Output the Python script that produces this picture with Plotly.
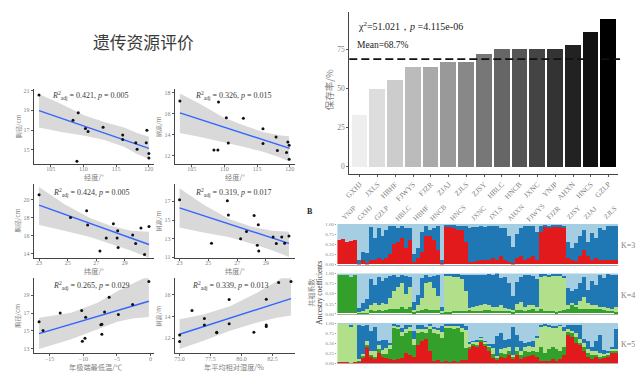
import plotly.graph_objects as go

W, H = 642, 384
SERIF = "Liberation Serif"
CJK = "Noto Sans CJK SC"
GREY = "#7f7f7f"

# ---------- environmental scatter panels ----------
lon_d = [103.2,108.4,109.2,110.3,110.7,113.0,116.0,116.0,118.0,118.2,119.6,119.7,120.0,120.0,109.0]
lon_h = [103.2,108.4,109.0,109.1,110.3,110.6,112.9,115.9,115.9,117.9,118.1,119.5,119.7,119.9,119.9]
dbh_lon = [20.54,18.0,18.75,17.16,16.86,17.3,16.5,16.06,15.73,15.07,15.73,17.0,14.64,14.2,13.87]
hgt_lon = [17.2,12.53,12.53,17.1,15.6,13.2,15.56,14.56,13.16,13.78,12.5,12.3,13.3,13.0,11.66]
lat_d = [23.0,25.2,26.33,26.4,27.26,27.7,28.2,28.46,28.5,28.53,29.55,29.76,30.13,30.38,30.69]
dbh_lat = [20.52,18.0,18.76,17.15,14.26,15.72,17.3,15.72,16.53,14.66,16.05,15.1,16.82,13.89,17.0]
lat_h = [23.0,25.22,26.32,26.39,27.24,27.65,28.18,28.4,28.47,28.5,29.5,29.72,30.1,30.3,30.6]
hgt_lat = [17.18,12.5,17.07,15.53,13.0,13.77,15.49,12.3,14.5,11.67,13.18,12.47,13.18,12.5,13.28]
tmin = [-16.57,-15.98,-13.43,-10.23,-10.13,-9.74,-9.64,-7.38,-7.23,-7.23,-6.83,-6.15,-4.77,-2.65,-0.24]
dbh_tmin = [16.04,15.04,17.0,17.3,13.85,14.19,16.52,15.7,15.74,14.63,17.11,18.78,16.85,17.96,20.56]
rh = [75,75,76,77,77,78,78,79,79,81,82,82,82,83,84]
hgt_rh = [12.3,11.7,14.55,13.8,13.2,12.5,12.55,15.55,13.33,12.55,15.58,13.2,13.06,17.12,17.2]

fit_x = [[103.2,120],[103.2,120],[23,30.69],[23,30.6],[-16.57,-0.24],[75,84]]
fit_y = [[18.98,15.17],[16.06,12.69],[19.38,14.99],[16.3,12.5],[14.7,18.33],[12.36,15.64]]
band_x = [[103.2,106.6,110.2,113.2,116.2,118.2,120],
          [103.2,106.3,109.8,112.9,115.9,118.4,119.9],
          [23,24.78,26.63,28.02,29.41,30.69],
          [23,24.65,26.48,28.08,29.46,30.6],
          [-16.57,-11.8,-7.87,-4.92,-2.46,-0.24],
          [75,76.93,79.07,81.21,82.82,84]]
band_up = [[20.64,19.64,18.48,17.82,17.26,16.72,16.33],
           [17.9,16.9,15.66,14.88,14.25,13.94,13.84],
           [21.4,19.46,17.88,17.08,16.53,16.42],
           [18.4,16.65,15.07,14.26,13.84,13.74],
           [16.48,17.04,18.15,19.44,20.37,21.2],
           [13.73,14.18,14.94,16.15,17.21,18.12]]
band_lo = [[17.26,16.82,16.43,16.0,15.33,14.6,14.1],
           [14.16,13.78,13.31,12.84,12.38,11.84,11.44],
           [17.15,16.53,15.79,15.06,14.33,13.49],
           [14.19,13.67,13.14,12.44,11.74,11.04],
           [12.96,14.07,15.19,16.04,16.41,16.56],
           [11.0,11.76,12.67,13.42,13.88,14.09]]
scatter_x = [lon_d, lon_h, lat_d, lat_h, tmin, rh]
scatter_y = [dbh_lon, hgt_lon, dbh_lat, hgt_lat, dbh_tmin, hgt_rh]
x_ticks = [[105,110,115,120],[105,110,115,120],[23,25,27,29],[23,25,27,29],[-15,-10,-5,0],[75,77.5,80,82.5]]
x_tick_text = [["105","110","115","120"],["105","110","115","120"],["23","25","27","29"],["23","25","27","29"],
               ["−15","−10","−5","0"],["75.0","77.5","80.0","82.5"]]
y_ticks = [[15,17,19,21],[12,14,16,18],[14,16,18,20],[11,13,15,17],[13,15,17,19],[12,14,16]]
x_titles = ["经度/°","经度/°","纬度/°","纬度/°","年极端最低温/℃","年平均相对湿度/%"]
y_titles = ["胸径/cm","树高/m","胸径/cm","树高/m","胸径/cm","树高/m"]
r2_text = ["0.421","0.326","0.424","0.319","0.265","0.339"]
p_text = ["0.005","0.015","0.005","0.017","0.029","0.013"]

# ---------- survival bar chart ----------
bar_names = ["GXHJ","JXLS","HBHF","FJWYS","FJZR","ZJAJ","ZJLS","ZJSY","HBLC","HNCB","JXNC","YNJP","AHXN","HNCS","GZLP"]
bar_values = [33.3,50.0,55.6,63.9,63.9,66.7,66.7,72.2,75.0,75.0,75.0,75.0,77.8,86.1,94.4]
bar_colors = ["#eeeeee","#dddddd","#cccccc","#bbbbbb","#aaaaaa","#999999","#888888","#777777",
              "#666666","#555555","#444444","#333333","#222222","#111111","#000000"]
mean_value = 68.7

# ---------- ancestry panels (column = about 4 px of the original stacked plot) ----------
k3_red = [.60,.62,.55,.58,.60,.02,.10,.03,.12,.10,.15,.10,.15,.25,.50,.55,.65,.40,.60,.05,.15,.30,.70,.70,.60,.35,.03,
          .95,.93,.90,.85,.85,.55,.05,.05,.08,.10,.12,.12,.15,.10,.20,.10,.05,.03,.15,.20,.10,.15,.20,.10,.80,.95,.90,
          .95,.95,.95,.90,.15,.10,.08,.20,.35,.20,.12,.15,.10,.10,.12,.10,.10]
k3_blue = [0,0,0,0,0,.10,.20,.25,.80,.55,.75,.60,.70,.70,.45,.35,.30,.50,.30,.20,.25,.50,.25,.15,.30,.60,.07,
           .03,.05,.08,.10,.12,.42,.85,.88,.85,.85,.80,.85,.80,.85,.70,.80,.65,.40,.60,.70,.85,.80,.75,.70,.15,.03,.07,
           .03,.03,.03,.05,.40,.30,.45,.50,.50,.35,.65,.50,.80,.75,.83,.85,.85]
k4_dgreen = [.97,.97,.95,.90,.97,.02,.03,.02,.08,.05,.08,.05,.08,.12,.10,.10,.15,.12,.15,.03,.05,.08,.10,.08,.08,.08,.02,
             .03,.03,.05,.05,.05,.05,.08,.05,.06,.05,.08,.08,.05,.05,.07,.05,.05,.03,.08,.08,.05,.08,.10,.05,.10,.05,.07,
             .05,.03,.05,.08,.12,.20,.15,.10,.10,.12,.10,.10,.10,.08,.05,.05,.03]
k4_lgreen = [0,0,0,0,0,.02,.03,.08,.12,.20,.12,.20,.15,.25,.45,.55,.60,.35,.50,.05,.15,.30,.65,.70,.55,.35,.05,
             .90,.92,.85,.85,.80,.50,.05,.10,.12,.15,.15,.12,.12,.10,.15,.08,.05,.05,.15,.20,.10,.12,.12,.10,.80,.90,.83,
             .90,.92,.90,.80,.10,.05,.05,.20,.30,.15,.10,.10,.05,.08,.08,.05,.12]
k4_blue = [0,0,0,0,0,.10,.20,.25,.65,.45,.70,.55,.65,.55,.40,.25,.20,.45,.25,.20,.25,.50,.20,.12,.30,.52,.10,
           .05,.03,.08,.08,.12,.42,.82,.82,.78,.75,.72,.78,.80,.85,.65,.78,.65,.35,.55,.62,.82,.75,.70,.70,.08,.03,.07,
           .03,.03,.03,.05,.40,.30,.40,.45,.50,.30,.60,.50,.80,.72,.85,.87,.80]
k5_red = [.02,.02,.03,0,.04,.05,.15,.40,.15,.10,.25,.15,.12,.10,.08,.10,.12,.25,.20,.15,.45,.55,.60,.30,.05,.08,.03,
          .05,.03,.05,.03,.08,.08,.35,.45,.40,.55,.45,.30,.12,.08,.15,.12,.20,.10,.20,.10,.15,.18,.20,.15,.05,.05,.05,
          .10,.05,.10,.20,.70,.65,.50,.45,.30,.15,.10,.15,.10,.12,.15,.25,.25]
k5_green = [0,0,0,0,0,.02,.03,.05,.05,.05,.10,.08,.10,.25,.80,.75,.55,.50,.60,.30,.30,.25,.15,.55,.70,.65,.60,
            .85,.85,.80,.85,.70,.30,.05,.03,.05,.03,.03,.10,.12,.05,.10,.10,.10,.05,.10,.10,.15,.10,.10,.12,.35,.20,.30,
            .30,.30,.20,.20,.10,.10,.15,.05,.10,.10,.10,.05,.05,.05,.05,.05,.05]
k5_lgreen = [.96,.96,.95,.90,.94,.03,.05,.10,.10,.15,.10,.10,.15,.10,.05,.05,.10,.10,.10,.15,.10,.05,.10,.10,.10,.10,.15,
             .03,.05,.08,.05,.10,.45,.10,.05,.10,.05,.05,.05,.15,.05,.10,.15,.10,.05,.10,.10,.10,.15,.10,.35,.50,.70,.55,
             .50,.55,.65,.40,.05,.05,.10,.10,.10,.10,.10,.10,.10,.05,.05,.05,.05]
k5_blue = [0,0,0,.05,0,.85,.70,.40,.50,.60,.10,.25,.20,.05,.05,.05,.10,.10,.05,.20,.10,.10,.05,.03,.05,.05,.15,
           .05,.05,.05,.05,.10,.10,.02,.03,.03,.02,.02,.02,.08,.50,.40,.20,.20,.70,.30,.25,.10,.10,.15,.05,.05,.03,.05,
           .02,.03,.02,.10,.10,.15,.20,.35,.10,.20,.10,.25,.45,.10,.05,.05,.50]
k_labels = ["YNJP","GXHJ","GZLP","HBLC","HBHF","HNCB","HNCS","JXNC","JXLS","AHXN","FJWYS","FJZR","ZJSY","ZJAJ","ZJLS"]
k_label_px = [347,363,380,402,420,437,457,478,495,515,535,553,573,590,610]
k_ticks = [0,.25,.5,.75,1]
k_tick_text = ["0.00","0.25","0.50","0.75","1.00"]
C_RED, C_BLUE, C_LBLUE, C_GREEN, C_LGREEN = "#E31A1C","#1F78B4","#A6CEE3","#33A02C","#B2DF8A"

def px(x): return x/W
def py(y): return 1-y/H

fig = go.Figure()
annots = []
def note(text, x, y, size, color=GREY, family=SERIF, angle=0, xa="center"):
    annots.append(dict(text=text, x=px(x), y=py(y), xref="paper", yref="paper", showarrow=False,
                       xanchor=xa, yanchor="middle", textangle=angle,
                       font=dict(size=size, color=color, family=family)))

# layout geometry (pixels of the 642x384 frame)
boxes = [(29,150,88,164),(171,292,88,164),(29,150,184,259),(171,292,184,259),(29,150,280,356),(171,292,280,356)]
x_ranges = [(102.4,120.76),(102.4,120.75),(22.63,31.03),(22.66,31.0),(-17.36,0.5),(74.6,84.3)]
y_ranges = [(13.6,21.17),(11.22,18.35),(13.53,21.77),(10.97,18.9),(12.48,20.9),(10.6,17.5)]
r2_pos = [(86,94.3),(230,94.3),(87,193),(230,193),(87,287.7),(227,287.7)]
x_title_pos = [(90,177.5),(232,177.5),(90,273),(232,273),(91,370),(231,370)]
y_title_x = [13,155,13,155,13,155]
layout = {}

for i in range(6):
    n = i+1
    sfx = "" if n == 1 else str(n)
    xa, ya = "x"+sfx, "y"+sfx
    fig.add_trace(go.Scatter(x=band_x[i]+band_x[i][::-1], y=band_up[i]+band_lo[i][::-1], fill="toself",
                             fillcolor="#d9d9d9", line=dict(width=0), mode="lines", xaxis=xa, yaxis=ya, showlegend=False))
    fig.add_trace(go.Scatter(x=fit_x[i], y=fit_y[i], mode="lines", line=dict(color="#3366FF", width=1.4),
                             xaxis=xa, yaxis=ya, showlegend=False))
    fig.add_trace(go.Scatter(x=scatter_x[i], y=scatter_y[i], mode="markers", marker=dict(color="#111111", size=3),
                             xaxis=xa, yaxis=ya, showlegend=False))
    l, r, t, b = boxes[i]
    layout["xaxis"+sfx] = dict(domain=[px(l),px(r)], range=list(x_ranges[i]), anchor=ya, tickvals=x_ticks[i],
                               ticktext=x_tick_text[i], showgrid=False, zeroline=False, showline=True,
                               linecolor="#444444", linewidth=1, ticks="outside", ticklen=2, tickwidth=0.7, tickcolor="#555555",
                               ticklabelstandoff=-3,
                               tickfont=dict(size=6, color=GREY, family=SERIF))
    layout["yaxis"+sfx] = dict(domain=[py(b),py(t)], range=list(y_ranges[i]), anchor=xa, tickvals=y_ticks[i],
                               showgrid=False, zeroline=False, showline=True,
                               linecolor="#444444", linewidth=1, ticks="outside", ticklen=2, tickwidth=0.7, tickcolor="#555555",
                               tickfont=dict(size=6, color=GREY, family=SERIF))
    note("<i>R</i><sup>2</sup><sub>adj</sub> = %s, <i>p</i> = %s" % (r2_text[i], p_text[i]), r2_pos[i][0], r2_pos[i][1], 8, color="#3a3a3a")
    note(x_titles[i], x_title_pos[i][0], x_title_pos[i][1], 7.2, family=CJK)
    note(y_titles[i], y_title_x[i], (t+b)/2, 6.2, family=CJK, angle=-90)

# bar chart
fig.add_trace(go.Bar(x=bar_names, y=bar_values, marker=dict(color=bar_colors, line=dict(width=0)), width=0.89,
                     xaxis="x7", yaxis="y7", showlegend=False))
layout["xaxis7"] = dict(domain=[px(347),px(618)], range=[-0.59,14.54], anchor="y7", type="category",
                        categoryorder="array", categoryarray=bar_names, tickangle=-45, showgrid=False, showline=True,
                        linecolor="#444444", linewidth=1, ticks="outside", ticklen=2, tickwidth=0.7, tickcolor="#555555",
                        tickfont=dict(size=7.5, color=GREY, family=SERIF))
layout["yaxis7"] = dict(domain=[py(174.3),py(10)], range=[-4.8,99], anchor="x7", tickvals=[0,25,50,75],
                        showgrid=False, zeroline=False, showline=True, linecolor="#444444", linewidth=1,
                        ticks="outside", ticklen=2, tickwidth=0.7, tickcolor="#555555",
                        tickfont=dict(size=7.5, color=GREY, family=SERIF))
shapes = [dict(type="line", xref="x7 domain", yref="y7", x0=0, x1=1.007, y0=mean_value, y1=mean_value,
               line=dict(color="#111111", width=1.8, dash="8px,4px"))]
note("χ<sup>2</sup>=51.021，<i>p</i> =4.115e-06", 354, 24, 10, color="#222222", xa="left")
note("Mean=68.7%", 353, 44, 9.5, color="#222222", xa="left")
note("保存率/%", 326, 89, 9.5, family=CJK, angle=-90)

# ancestry panels
k_sets = [
    (8, (225,266), [(k3_red,C_RED),(k3_blue,C_BLUE)], "K=3", 247),
    (9, (275,316), [(k4_dgreen,C_GREEN),(k4_lgreen,C_LGREEN),(k4_blue,C_BLUE)], "K=4", 297),
    (10,(325.3,366), [(k5_red,C_RED),(k5_green,C_GREEN),(k5_lgreen,C_LGREEN),(k5_blue,C_BLUE)], "K=5", 347),
]
for ax, (t, b), comps, lab, ly in k_sets:
    cols = list(range(len(comps[0][0])))
    rest = [max(0, 1-sum(c[0][j] for c in comps)) for j in cols]
    for vals, col in comps+[(rest, C_LBLUE)]:
        fig.add_trace(go.Bar(x=cols, y=vals, marker=dict(color=col, line=dict(width=0)), width=1.0,
                             xaxis="x%d"%ax, yaxis="y%d"%ax, showlegend=False))
    layout["xaxis%d"%ax] = dict(domain=[px(335),px(618)], range=[-0.5,70.5], anchor="y%d"%ax, showticklabels=False,
                                showgrid=False, zeroline=False, showline=True, linecolor="#aaaaaa", linewidth=1, ticks="")
    layout["yaxis%d"%ax] = dict(domain=[py(b),py(t)], range=[0,1], anchor="x%d"%ax, tickvals=k_ticks, ticktext=k_tick_text,
                                showgrid=False, zeroline=False, ticks="outside", ticklen=1.5, tickwidth=0.5, tickcolor="#999999",
                                tickfont=dict(size=5, color=GREY, family=SERIF))
    note(lab, 628, ly, 8, xa="center")
for name, x in zip(k_labels, k_label_px):
    note(name, x, 214, 7, angle=-45)
note("<b>B</b>", 307, 212, 8, color="#222222")
note("共祖系数", 309, 295, 7, family=CJK, angle=-90)
note("Ancestry coefficients", 317, 295, 7.5, color="#333333", angle=-90)

note("遗传资源评价", 140, 41, 16.8, color="#3a3a3a", family=CJK)

fig.update_layout(width=W, height=H, margin=dict(l=0,r=0,t=0,b=0), paper_bgcolor="white", plot_bgcolor="white",
                  barmode="stack", bargap=0, showlegend=False, annotations=annots, shapes=shapes, **layout)
fig.write_html("out.html", config={"displayModeBar": False},
               post_script="document.body.style.margin='0';document.body.style.overflow='hidden';")
